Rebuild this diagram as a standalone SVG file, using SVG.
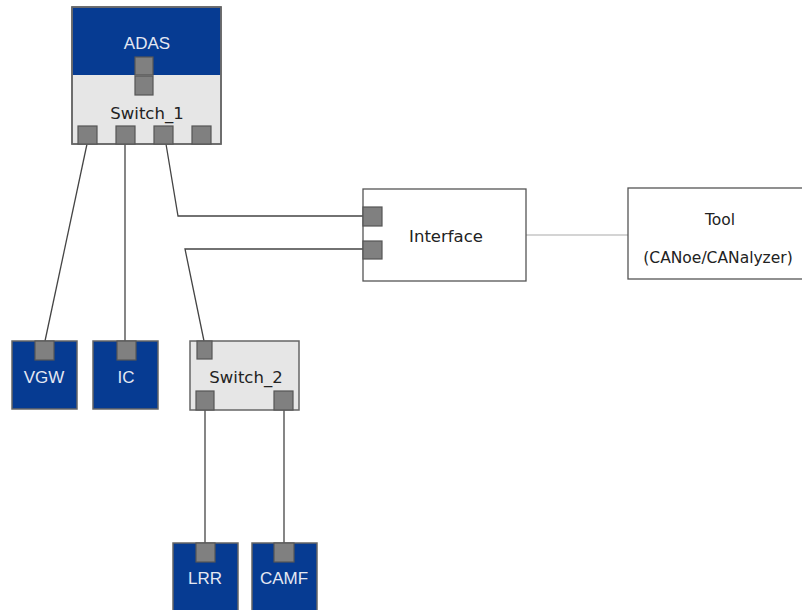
<svg xmlns="http://www.w3.org/2000/svg" width="802" height="610" viewBox="0 0 802 610">
<style>
.blue{fill:#063b92;stroke:#666;stroke-width:1.5}
.sw{fill:#e6e6e6;stroke:#666;stroke-width:1.5}
.box{fill:#fff;stroke:#555;stroke-width:1.3}
.port{fill:#808080;stroke:#555;stroke-width:1.2}
.wl{font-family:"Liberation Sans",Arial,sans-serif;font-size:17px;fill:#e4e8f2;text-anchor:middle}
.dl{font-family:"DejaVu Sans",Verdana,sans-serif;font-size:16.5px;fill:#222;text-anchor:middle}
.tl{font-family:"DejaVu Sans",Verdana,sans-serif;font-size:15.5px;fill:#222;text-anchor:middle}
.ln{fill:none;stroke:#444;stroke-width:1.3}
.lt{fill:none;stroke:#aaa;stroke-width:1.2}
</style>
<rect width="802" height="610" fill="#fff"/>
<g id="connectors">
<polyline class="ln" points="87,144 45,341"/>
<polyline class="ln" points="125,144 125,341"/>
<polyline class="ln" points="166,144 178,216 363,216"/>
<polyline class="ln" points="363,249 185,249 204,341"/>
<polyline class="ln" points="205,410 205,543"/>
<polyline class="ln" points="284,410 284,543"/>
<line class="lt" x1="526" y1="235" x2="628" y2="235"/>
</g>
<g id="ADAS_Switch_1">
<rect class="sw" x="72" y="7" width="149" height="137"/>
<rect x="72.75" y="7.75" width="147.5" height="67.25" fill="#063b92"/>
<rect x="72" y="7" width="149" height="137" fill="none" stroke="#666" stroke-width="1.5"/>
<text class="wl" x="147" y="49">ADAS</text>
<rect class="port" x="135" y="57" width="18" height="18"/>
<rect class="port" x="135" y="76" width="18" height="19"/>
<text class="dl" x="147" y="119">Switch_1</text>
<rect class="port" x="78" y="126" width="19" height="18"/>
<rect class="port" x="116" y="126" width="19" height="18"/>
<rect class="port" x="154" y="126" width="19" height="18"/>
<rect class="port" x="192" y="126" width="19" height="18"/>
</g>
<g id="Interface">
<rect class="box" x="363" y="189" width="163" height="92"/>
<rect class="port" x="363" y="207" width="19" height="19"/>
<rect class="port" x="363" y="241" width="19" height="18"/>
<text class="dl" x="446" y="242">Interface</text>
</g>
<g id="Tool">
<rect class="box" x="628" y="188" width="190" height="91"/>
<text class="tl" x="720" y="225">Tool</text>
<text class="tl" x="718" y="263">(CANoe/CANalyzer)</text>
</g>
<g id="VGW">
<rect class="blue" x="12" y="341" width="65" height="68"/>
<rect class="port" x="35" y="341" width="19" height="19"/>
<text class="wl" x="44" y="383">VGW</text>
</g>
<g id="IC">
<rect class="blue" x="93" y="341" width="65" height="68"/>
<rect class="port" x="117" y="341" width="19" height="19"/>
<text class="wl" x="126" y="383">IC</text>
</g>
<g id="Switch_2">
<rect class="sw" x="190" y="341" width="109" height="69"/>
<rect class="port" x="197" y="341" width="15" height="18"/>
<text class="dl" x="246" y="383">Switch_2</text>
<rect class="port" x="196" y="391" width="18" height="19"/>
<rect class="port" x="274" y="391" width="19" height="19"/>
</g>
<g id="LRR">
<rect class="blue" x="173" y="543" width="65" height="70"/>
<rect class="port" x="196" y="543" width="19" height="19"/>
<text class="wl" x="205" y="584">LRR</text>
</g>
<g id="CAMF">
<rect class="blue" x="252" y="543" width="65" height="70"/>
<rect class="port" x="274" y="543" width="20" height="19"/>
<text class="wl" x="284" y="584">CAMF</text>
</g>
</svg>
